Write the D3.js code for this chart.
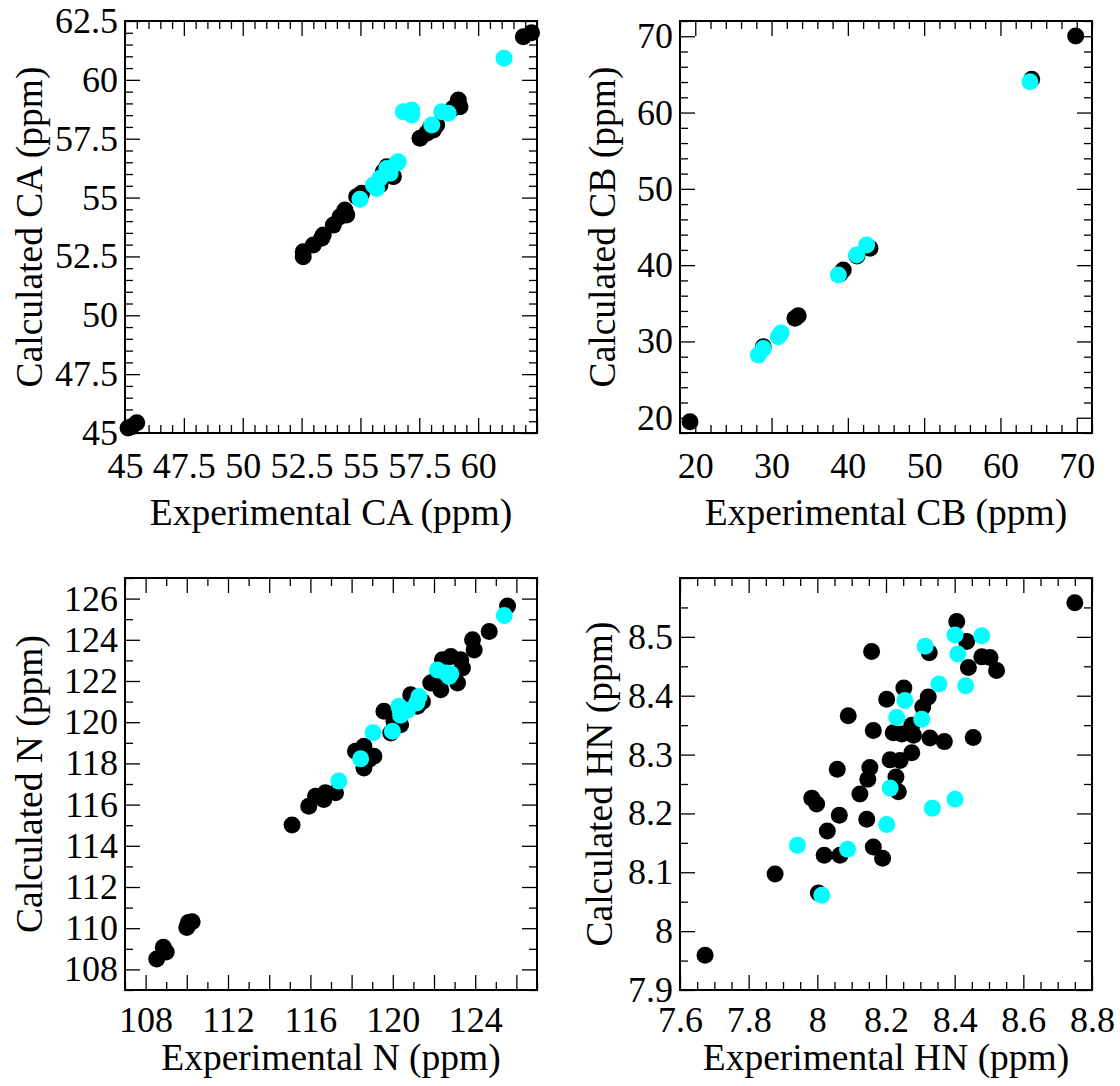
<!DOCTYPE html>
<html><head><meta charset="utf-8">
<script src="https://cdn.jsdelivr.net/npm/d3@7"></script>
<style>
body{margin:0;background:#fff}
svg{display:block}
text{font-family:"Liberation Serif","Times New Roman",serif;fill:#000}
</style>
</head><body>
<svg id="c" width="1120" height="1086"></svg>
<script>
// ---------- DATA ----------
// CA panel [experimental, calculated]
const caBlack=[[45.13,45.21],[45.28,45.27],[45.50,45.44],[61.92,61.83],[62.27,62.00],
[52.57,52.49],[52.57,52.70],[53.00,52.99],[53.35,53.27],[53.42,53.41],[53.85,53.83],
[54.34,54.47],[54.42,54.26],[54.13,54.19],[54.84,55.04],[55.05,55.18],[55.69,55.46],
[55.83,55.53],[56.12,56.31],[56.26,56.03],[56.40,55.89],[55.97,56.10],[57.53,57.52],
[57.81,57.73],[57.96,57.94],[58.24,58.08],[58.10,57.87],[59.16,59.14],[59.23,58.86],[58.94,58.79]];
const caCyan=[[61.10,60.92],[56.82,58.65],[57.18,58.72],[57.18,58.51],[58.03,58.08],
[58.45,58.65],[58.73,58.58],[56.12,56.24],[56.54,56.46],[56.61,56.52],[56.26,56.03],
[55.55,55.53],[55.83,55.82],[55.69,55.39],[54.98,54.93]];
const caXLabels=[45,47.5,50,52.5,55,57.5,60];
const caYLabels=[45,47.5,50,52.5,55,57.5,60,62.5];

// CB panel
const cbBlack=[[19.31,19.48],[69.86,70.03],[64.09,64.36],[33.07,33.03],[33.50,33.37],
[28.92,29.31],[39.40,39.36],[38.97,38.84],[41.20,41.20],[42.90,42.21]];
const cbCyan=[[63.87,64.04],[38.75,38.71],[41.16,41.33],[42.47,42.64],[28.26,28.22],
[28.92,29.09],[30.88,30.62],[31.24,31.10]];
const cbXLabels=[20,30,40,50,60,70];
const cbYLabels=[20,30,40,50,60,70];

// N panel
const nBlack=[[108.54,108.50],[108.86,109.07],[109.00,108.84],[110.00,110.04],[110.08,110.28],
[110.26,110.31],[115.11,115.01],[115.92,115.92],[116.25,116.41],[116.65,116.25],[116.73,116.57],
[117.22,116.57],[118.19,118.59],[118.60,118.83],[119.08,118.35],[118.60,117.78],[118.84,118.19],
[119.57,120.53],[119.90,119.48],[120.38,119.88],[120.06,120.04],[120.87,121.33],[121.19,120.77],
[121.44,121.01],[121.84,121.90],[122.33,121.58],[122.09,122.06],[122.41,123.03],[122.82,123.19],
[123.30,123.03],[123.14,121.90],[123.38,122.63],[123.87,124.00],[123.95,123.51],[124.68,124.40],
[125.57,125.64]];
const nCyan=[[117.38,117.14],[118.44,118.22],[119.04,119.49],[119.98,119.56],[120.30,120.77],
[120.38,120.34],[120.71,120.58],[121.27,121.25],[121.16,120.93],[122.17,122.54],[122.57,122.39],
[122.73,122.22],[122.82,122.35],[125.41,125.18]];
const nXLabels=[108,112,116,120,124];
const nYLabels=[108,110,112,114,116,118,120,122,124,126];

// HN panel
const hnBlack=[[7.673,7.959],[8.750,8.558],[8.406,8.526],[8.158,8.475],[8.326,8.473],
[8.435,8.492],[8.479,8.466],[8.503,8.465],[8.440,8.448],[8.522,8.443],[8.252,8.413],
[8.323,8.398],[8.202,8.394],[8.307,8.381],[8.090,8.366],[8.163,8.341],[8.221,8.337],
[8.246,8.335],[8.275,8.350],[8.280,8.333],[8.328,8.328],[8.370,8.322],[8.454,8.329],
[8.275,8.303],[8.212,8.291],[8.241,8.290],[8.058,8.275],[8.153,8.278],[8.147,8.258],
[8.229,8.262],[8.236,8.237],[8.124,8.233],[7.984,8.226],[7.998,8.216],[8.064,8.197],
[8.144,8.190],[8.029,8.170],[8.020,8.129],[8.066,8.129],[8.163,8.143],[8.190,8.124],
[7.877,8.097],[8.003,8.065]];
const hnCyan=[[8.314,8.484],[8.401,8.503],[8.479,8.502],[8.409,8.471],[8.354,8.420],
[8.432,8.417],[8.255,8.392],[8.231,8.363],[8.304,8.360],[8.212,8.243],[8.335,8.209],
[8.401,8.224],[8.202,8.181],[7.942,8.146],[8.088,8.139],[8.013,8.061]];
const hnXLabels=[7.6,7.8,8.0,8.2,8.4,8.6,8.8];
const hnYLabels=[7.9,8.0,8.1,8.2,8.3,8.4,8.5];

// ---------- LAYOUT ----------
const S=412;
const panels=[
 {x0:125,y0:21,xd:[45,62.5],yd:[45,62.5],xMaj:2.5,yMaj:2.5,xMin:0.5,yMin:0.5,xLab:caXLabels,yLab:caYLabels,
  black:caBlack,cyan:caCyan,xt:"Experimental CA (ppm)",yt:"Calculated CA (ppm)",ytx:42,xtOff:92,xlPad:19},
 {x0:680,y0:21,xd:[18,72],yd:[18,72],xMaj:10,yMaj:10,xMin:2,yMin:2,xLab:cbXLabels,yLab:cbYLabels,
  black:cbBlack,cyan:cbCyan,xt:"Experimental CB (ppm)",yt:"Calculated CB (ppm)",ytx:615,xtOff:92,xlPad:19},
 {x0:125,y0:578,xd:[107,127],yd:[107,127],xMaj:2,yMaj:2,xMin:1,yMin:1,xLab:nXLabels,yLab:nYLabels,
  black:nBlack,cyan:nCyan,xt:"Experimental N (ppm)",yt:"Calculated N (ppm)",ytx:42,xtOff:80,xlPad:16},
 {x0:680,y0:578,xd:[7.6,8.8],yd:[7.9,8.6],xMaj:0.2,yMaj:0.1,xMin:0.05,yMin:0.05,xLab:hnXLabels,yLab:hnYLabels,
  black:hnBlack,cyan:hnCyan,xt:"Experimental HN (ppm)",yt:"Calculated HN (ppm)",ytx:612,xtOff:80,xlPad:16}
];

const svg=d3.select("#c");
const FS=36, TFS=37.5;
function steps(d,step){
  const a=Math.ceil(d[0]/step-1e-6), b=Math.floor(d[1]/step+1e-6);
  return d3.range(a,b+1).map(i=>+(i*step).toFixed(4));
}
const fmt=v=>String(+v.toFixed(3));
const has=(arr,v)=>arr.some(a=>Math.abs(a-v)<1e-6);

panels.forEach(p=>{
  const g=svg.append("g");
  const x=d3.scaleLinear().domain(p.xd).range([p.x0,p.x0+S]);
  const y=d3.scaleLinear().domain(p.yd).range([p.y0+S,p.y0]);
  const xM=steps(p.xd,p.xMaj), yM=steps(p.yd,p.yMaj);
  const xm=steps(p.xd,p.xMin).filter(v=>!has(xM,v)), ym=steps(p.yd,p.yMin).filter(v=>!has(yM,v));

  function ax(gen, tr, vals, size, labels, pad){
    const a=g.append("g").attr("transform",tr)
      .call(gen.tickValues(vals).tickSizeInner(-size).tickSizeOuter(0).tickPadding(pad)
        .tickFormat(v=>labels&&has(labels,v)?fmt(v):""));
    a.select(".domain").remove();
    a.selectAll("line").attr("stroke","#000").attr("stroke-width",1.3);
    a.selectAll("text").attr("font-size",FS).attr("font-family","Liberation Serif, Times New Roman, serif").attr("fill","#000");
    return a;
  }
  const bot=`translate(0,${p.y0+S})`, top=`translate(0,${p.y0})`, lef=`translate(${p.x0},0)`, rig=`translate(${p.x0+S},0)`;
  ax(d3.axisBottom(x),bot,xM,15,p.xLab,p.xlPad);
  ax(d3.axisBottom(x),bot,xm,8,null,p.xlPad);
  ax(d3.axisTop(x),top,xM,15,null,0);
  ax(d3.axisTop(x),top,xm,8,null,0);
  ax(d3.axisLeft(y),lef,yM,15,p.yLab,7);
  ax(d3.axisLeft(y),lef,ym,8,null,7);
  ax(d3.axisRight(y),rig,yM,15,null,0);
  ax(d3.axisRight(y),rig,ym,8,null,0);

  // points: black first, cyan on top
  g.append("g").selectAll("circle").data(p.black).join("circle")
    .attr("cx",d=>x(d[0])).attr("cy",d=>y(d[1])).attr("r",8.5).attr("fill","#000");
  g.append("g").selectAll("circle").data(p.cyan).join("circle")
    .attr("cx",d=>x(d[0])).attr("cy",d=>y(d[1])).attr("r",8.5).attr("fill","#00ffff");

  // frame
  g.append("rect").attr("x",p.x0).attr("y",p.y0).attr("width",S).attr("height",S)
    .attr("fill","none").attr("stroke","#000").attr("stroke-width",2);

  // titles
  g.append("text").attr("x",p.x0+S/2).attr("y",p.y0+S+p.xtOff).attr("text-anchor","middle")
    .attr("font-size",TFS).text(p.xt);
  g.append("text").attr("transform",`translate(${p.ytx},${p.y0+S/2}) rotate(-90)`)
    .attr("text-anchor","middle").attr("font-size",TFS).text(p.yt);
});
</script>
</body></html>
